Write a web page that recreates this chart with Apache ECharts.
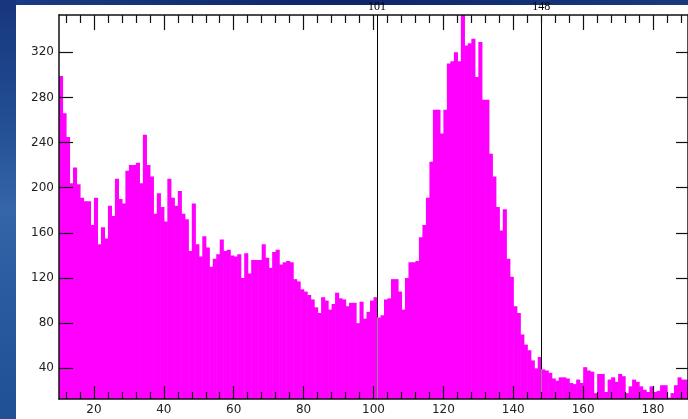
<!DOCTYPE html>
<html><head><meta charset="utf-8">
<script src="https://cdn.jsdelivr.net/npm/echarts@6/dist/echarts.min.js"></script>
<style>
html,body{margin:0;padding:0;width:688px;height:419px;overflow:hidden;background:#1b3f86;}
#bgTop{position:absolute;left:0;top:0;width:688px;height:5px;background:linear-gradient(90deg,#1a3d85 0%,#0e2569 50%,#183a80 100%);}
#bgLeft{position:absolute;left:0;top:0;width:16px;height:419px;background:linear-gradient(180deg,#17367b 0%,#234f95 30%,#3566a9 50%,#2a5a9f 70%,#1f4f95 100%);}
#panel{position:absolute;left:16px;top:5px;width:672px;height:414px;background:#ffffff;}
#chart{position:absolute;left:0;top:0;width:688px;height:419px;}
</style></head>
<body>
<div id="bgTop"></div><div id="bgLeft"></div><div id="panel"></div><div id="chart"></div>
<script>
// histogram bins: value 10 .. 189, one unit wide
const binStart = 10;
const counts = [
  299,266,245,204,218,203,191,188,188,167,
  191,150,165,155,184,175,208,190,186,215,
  220,220,222,204,247,220,210,177,195,183,
  170,208,191,184,197,177,172,144,186,150,
  139,157,147,130,137,141,154,144,145,140,
  139,141,120,142,124,136,136,136,150,138,
  129,143,145,132,134,135,134,119,117,110,
  108,105,101,94,89,103,100,92,97,107,
  102,101,95,98,98,80,99,84,90,100,
  103,85,87,101,102,119,119,108,92,120,
  134,134,135,156,167,191,223,269,269,248,
  269,310,312,320,312,360,326,328,332,298,
  329,278,278,230,210,183,162,181,137,121,
  95,89,70,61,56,47,40,50,39,38,
  36,31,29,32,32,31,27,26,30,27,
  41,38,37,18,35,35,19,30,32,28,
  35,33,18,24,30,28,24,21,19,24,
  19,20,25,25,14,18,25,32,30,30
];
const xRange = [10, 190];
const yRange = [12.8, 353];
const xTickLabels = [20,40,60,80,100,120,140,160,180];
const xMinorTicks = [12,16,24,28,32,36,44,48,52,56,64,68,72,76,84,88,92,96,104,108,112,116,124,128,132,136,144,148,152,156,164,168,172,176,184,188];
const yTickLabels = [40,80,120,160,200,240,280,320];
const markers = [101,148];

const chart = echarts.init(document.getElementById('chart'), null, {renderer:'canvas'});
const axisColor = '#111';
const labelFont = {fontFamily:'DejaVu Sans', fontSize:12, color:'#222'};
const gridBox = {left:59, top:15, width:630, height:384};

function xAx(grid, pos, tickVals, len, showLine, showLabels) {
  return {
    type:'value', gridIndex:grid, position:pos, min:xRange[0], max:xRange[1], z:10,
    axisLine:{show:showLine, onZero:false, lineStyle:{color:axisColor, width:1.5}},
    axisTick:{show:true, inside:true, length:len, customValues:tickVals, lineStyle:{color:axisColor, width:1.2}},
    axisLabel:showLabels ? Object.assign({show:true, margin:5, customValues:xTickLabels}, labelFont) : {show:false},
    splitLine:{show:false}
  };
}

const series = [{
  type:'custom', xAxisIndex:0, yAxisIndex:0, z:2,
  data: counts.map((v,i)=>[binStart+i, v]),
  renderItem(params, api) {
    const x = api.value(0), v = api.value(1);
    const p0 = api.coord([x, v]);
    const p1 = api.coord([x+1, yRange[0]]);
    const cs = params.coordSys;
    const shape = echarts.graphic.clipRectByRect(
      {x:p0[0], y:p0[1], width:p1[0]-p0[0]+0.6, height:p1[1]-p0[1]},
      {x:cs.x, y:cs.y, width:cs.width, height:cs.height});
    return shape && {type:'rect', shape, style:{fill:'#ff00ff'}};
  },
  markLine:{
    silent:true, animation:false, symbol:['none','none'],
    data: markers.flatMap(m => {
      const h = counts[m - binStart];
      return [
        [{coord:[m, h], lineStyle:{color:'#000', width:1, type:'solid'},
          label:{show:true, position:'end', distance:2, formatter:String(m),
                 fontFamily:'Liberation Serif', fontSize:12, color:'#000'}},
         {coord:[m, yRange[1]]}],
        [{coord:[m, yRange[0]], lineStyle:{color:'#8c8c8c', width:1, type:'solid'}, label:{show:false}},
         {coord:[m, h]}]
      ];
    })
  }
}];

chart.setOption({
  animation:false,
  grid:[Object.assign({}, gridBox), Object.assign({}, gridBox)],
  xAxis:[
    xAx(0,'bottom',xTickLabels,13,true,true),
    xAx(0,'top',xTickLabels,15,true,false),
    xAx(1,'bottom',xMinorTicks,7,false,false),
    xAx(1,'top',xMinorTicks,8,false,false)
  ],
  yAxis:[
    {type:'value', gridIndex:0, position:'left', min:yRange[0], max:yRange[1], z:10,
     axisLine:{show:true, lineStyle:{color:axisColor, width:1.5}},
     axisTick:{show:true, inside:true, length:14, customValues:yTickLabels, lineStyle:{color:axisColor, width:1.2}},
     axisLabel:Object.assign({show:true, margin:5, customValues:yTickLabels}, labelFont),
     splitLine:{show:false}},
    {type:'value', gridIndex:0, position:'right', min:yRange[0], max:yRange[1], z:10,
     axisLine:{show:true, lineStyle:{color:axisColor, width:1.5}},
     axisTick:{show:true, inside:true, length:12, customValues:yTickLabels, lineStyle:{color:axisColor, width:1.2}},
     axisLabel:{show:false}, splitLine:{show:false}},
    {type:'value', gridIndex:1, min:yRange[0], max:yRange[1], show:false}
  ],
  series
});
</script>
</body></html>
